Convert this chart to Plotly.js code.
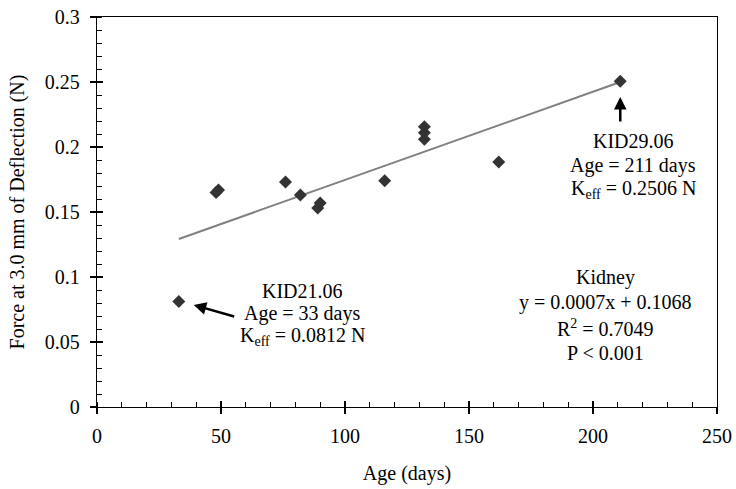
<!DOCTYPE html>
<html>
<head>
<meta charset="utf-8">
<script src="https://cdn.plot.ly/plotly-3.0.1.min.js"></script>
<style>html,body{margin:0;padding:0;background:#fff;}#chart{width:736px;height:489px;}</style>
</head>
<body>
<div id="chart"></div>
<script>
// Data
var ageDays = [33, 48, 49, 76, 82, 89, 90, 116, 132, 132, 132, 162, 211];
var forceN  = [0.0812, 0.165, 0.167, 0.173, 0.163, 0.153, 0.157, 0.174, 0.206, 0.211, 0.2156, 0.1885, 0.2506];
var trendX = [33, 211];
var trendY = [0.1292, 0.2500];
var xTicks = [0, 50, 100, 150, 200, 250];
var yTicks = [0, 0.05, 0.1, 0.15, 0.2, 0.25, 0.3];
var yTickText = ['0', '0.05', '0.1', '0.15', '0.2', '0.25', '0.3'];

var FONT = 'Liberation Serif, Times New Roman, serif';
var FS = 20;

var traces = [
  {x: trendX, y: trendY, type: 'scatter', mode: 'lines',
   line: {color: '#808080', width: 2}, hoverinfo: 'skip', showlegend: false},
  {x: ageDays, y: forceN, type: 'scatter', mode: 'markers',
   marker: {symbol: 'diamond', size: 10, color: '#333333'}, showlegend: false},
  // empty trace so the overlay tick axes are drawn
  {x: [], y: [], xaxis: 'x2', yaxis: 'y2', type: 'scatter', mode: 'markers', showlegend: false, hoverinfo: 'skip'}
];

// plot area: x 97..717, y 17..407 (px)
function px(xp) { return (xp - 97) / 620; }
function py(yp) { return (407 - yp) / 390; }
function txt(xp, yp, t) {
  return {xref: 'paper', yref: 'paper', x: px(xp), y: py(yp), text: t, showarrow: false,
          xanchor: 'center', yanchor: 'middle', font: {family: FONT, size: FS, color: '#000'}};
}

var annotations = [
  txt(302, 291, 'KID21.06'),
  txt(302, 313, 'Age = 33 days'),
  txt(302, 336, 'K<sub>eff</sub> = 0.0812 N'),
  txt(633, 141, 'KID29.06'),
  txt(633, 165, 'Age = 211 days'),
  txt(633, 189, 'K<sub>eff</sub> = 0.2506 N'),
  txt(605, 277, 'Kidney'),
  txt(605, 302, 'y = 0.0007x + 0.1068'),
  txt(605, 328, 'R<sup>2</sup> = 0.7049'),
  txt(605, 353, 'P &lt; 0.001'),
  // arrows (head at data point side, tail offset in px)
  {xref: 'x', yref: 'y', x: ageDays[0] + 6, y: 0.0785, ax: 42, ay: 12,
   text: '', showarrow: true, arrowhead: 2, arrowsize: 1, arrowwidth: 2.5, arrowcolor: '#000', standoff: 0},
  {xref: 'x', yref: 'y', x: ageDays[12], y: 0.2385, ax: 0, ay: 26,
   text: '', showarrow: true, arrowhead: 2, arrowsize: 1, arrowwidth: 2.5, arrowcolor: '#000', standoff: 0}
];

var axisCommon = {
  showgrid: false, zeroline: false, showline: true, linecolor: '#000', linewidth: 1.3,
  mirror: true, ticks: 'outside', ticklen: 6, tickwidth: 1.3, tickcolor: '#000',
  tickfont: {family: FONT, size: FS, color: '#000'}
};

var layout = {
  width: 736, height: 489,
  margin: {l: 97, r: 19, t: 17, b: 82},
  paper_bgcolor: '#fff', plot_bgcolor: 'rgba(0,0,0,0)',
  font: {family: FONT, size: FS, color: '#000'},
  showlegend: false,
  xaxis: Object.assign({}, axisCommon, {
    range: [0, 250], tickmode: 'array', tickvals: xTicks, ticktext: xTicks.map(String),
    ticklabelstandoff: 5,
    minor: {ticks: 'inside', dtick: 10, ticklen: 5, tickwidth: 1, tickcolor: '#000', showgrid: false},
    title: {text: 'Age (days)', font: {family: FONT, size: FS, color: '#000'}, standoff: 19}
  }),
  yaxis: Object.assign({}, axisCommon, {
    range: [0, 0.3], tickmode: 'array', tickvals: yTicks, ticktext: yTickText,
    ticklabelstandoff: 6,
    minor: {ticks: 'inside', dtick: 0.01, ticklen: 5, tickwidth: 1, tickcolor: '#000', showgrid: false},
    title: {text: 'Force at 3.0 mm of Deflection (N)', font: {family: FONT, size: FS, color: '#000'}, standoff: 14}
  }),
  xaxis2: {overlaying: 'x', range: [0, 250], tickmode: 'array', tickvals: xTicks, ticks: 'inside',
           ticklen: 6, tickwidth: 1.3, tickcolor: '#000', showticklabels: false, showline: false,
           showgrid: false, zeroline: false, side: 'bottom'},
  yaxis2: {overlaying: 'y', range: [0, 0.3], tickmode: 'array', tickvals: yTicks, ticks: 'inside',
           ticklen: 6, tickwidth: 1.3, tickcolor: '#000', showticklabels: false, showline: false,
           showgrid: false, zeroline: false, side: 'left'},
  annotations: annotations
};

Plotly.newPlot('chart', traces, layout, {displayModeBar: false, staticPlot: true});
</script>
</body>
</html>
